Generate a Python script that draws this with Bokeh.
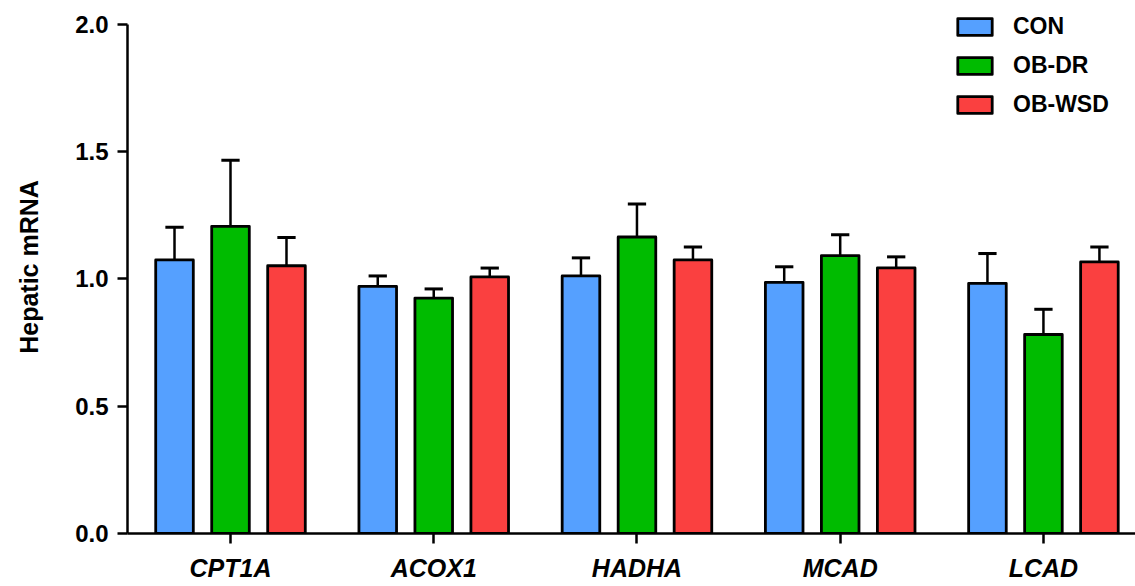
import numpy as np
from bokeh.plotting import figure
from bokeh.models import (ColumnDataSource, FixedTicker, Range1d, Legend, LegendItem,
                          PrintfTickFormatter)
from bokeh.embed import file_html
from bokeh.resources import INLINE

genes = ["CPT1A", "ACOX1", "HADHA", "MCAD", "LCAD"]
groups = ["CON", "OB-DR", "OB-WSD"]
con_mean = [1.075, 0.971, 1.012, 0.987, 0.983]
con_sem = [0.128, 0.041, 0.071, 0.061, 0.117]
obdr_mean = [1.207, 0.925, 1.165, 1.092, 0.782]
obdr_sem = [0.260, 0.036, 0.130, 0.082, 0.099]
obwsd_mean = [1.052, 1.008, 1.075, 1.044, 1.067]
obwsd_sem = [0.111, 0.035, 0.051, 0.043, 0.059]
y_ticks = [0.0, 0.5, 1.0, 1.5, 2.0]

colors = ["#55A0FF", "#00BB00", "#FA4040"]
offsets = [-0.2755, 0.0, 0.2755]
bar_w = 0.185
cap_half = 0.045
FONT = "Liberation Sans"

p = figure(width=1135, height=586, output_backend="svg", toolbar_location=None,
           x_range=Range1d(-0.5068, 4.453), y_range=Range1d(0, 2.0943),
           min_border_left=127, min_border_right=0, min_border_top=0,
           min_border_bottom=53)
p.outline_line_color = None
p.xgrid.visible = False
p.ygrid.visible = False

means = [con_mean, obdr_mean, obwsd_mean]
sems = [con_sem, obdr_sem, obwsd_sem]
idx = np.arange(len(genes))
items = []
for g, m, s, c, off in zip(groups, means, sems, colors, offsets):
    m = np.array(m)
    s = np.array(s)
    x = idx + off
    src = ColumnDataSource(dict(x=x, top=m, up=m + s, cl=x - cap_half, cr=x + cap_half))
    p.segment(x0="x", y0="top", x1="x", y1="up", source=src, line_color="black", line_width=2.5)
    p.segment(x0="cl", y0="up", x1="cr", y1="up", source=src, line_color="black", line_width=3)
    r = p.vbar(x="x", top="top", bottom=0, width=bar_w, source=src, fill_color=c,
               line_color="black", line_width=2.8, line_join="round")
    items.append(LegendItem(label=g, renderers=[r]))

legend = Legend(items=items, location=(826, 415), orientation="vertical",
                glyph_width=43, glyph_height=21, label_height=21, spacing=12,
                padding=0, margin=0, border_line_color=None, background_fill_alpha=0,
                label_text_font=FONT, label_text_font_size="23px",
                label_text_font_style="bold", label_text_color="black",
                label_standoff=17)
p.add_layout(legend)

for ax in (p.xaxis, p.yaxis):
    ax.axis_line_width = 2.5
    ax.major_tick_line_width = 2.5
    ax.major_tick_in = 0
    ax.major_tick_out = 10
    ax.minor_tick_line_color = None
    ax.major_label_text_font = FONT
    ax.major_label_text_font_style = "bold"
    ax.major_label_text_color = "black"

p.yaxis.bounds = (0, 2.0)
p.yaxis.ticker = FixedTicker(ticks=y_ticks)
p.yaxis.formatter = PrintfTickFormatter(format="%.1f")
p.yaxis.major_label_text_font_size = "24px"
p.yaxis.major_label_standoff = 9
p.yaxis.axis_label = "Hepatic mRNA"
p.yaxis.axis_label_text_font = FONT
p.yaxis.axis_label_text_font_size = "25px"
p.yaxis.axis_label_text_font_style = "bold"
p.yaxis.axis_label_text_color = "black"
p.yaxis.axis_label_standoff = 29

p.xaxis.ticker = FixedTicker(ticks=list(range(len(genes))))
p.xaxis.major_label_overrides = {i: g for i, g in enumerate(genes)}
p.xaxis.major_label_text_font_size = "25px"
p.xaxis.major_label_text_font_style = "bold italic"
p.xaxis.major_label_standoff = 10

open("out.html", "w").write(file_html(p, INLINE))
